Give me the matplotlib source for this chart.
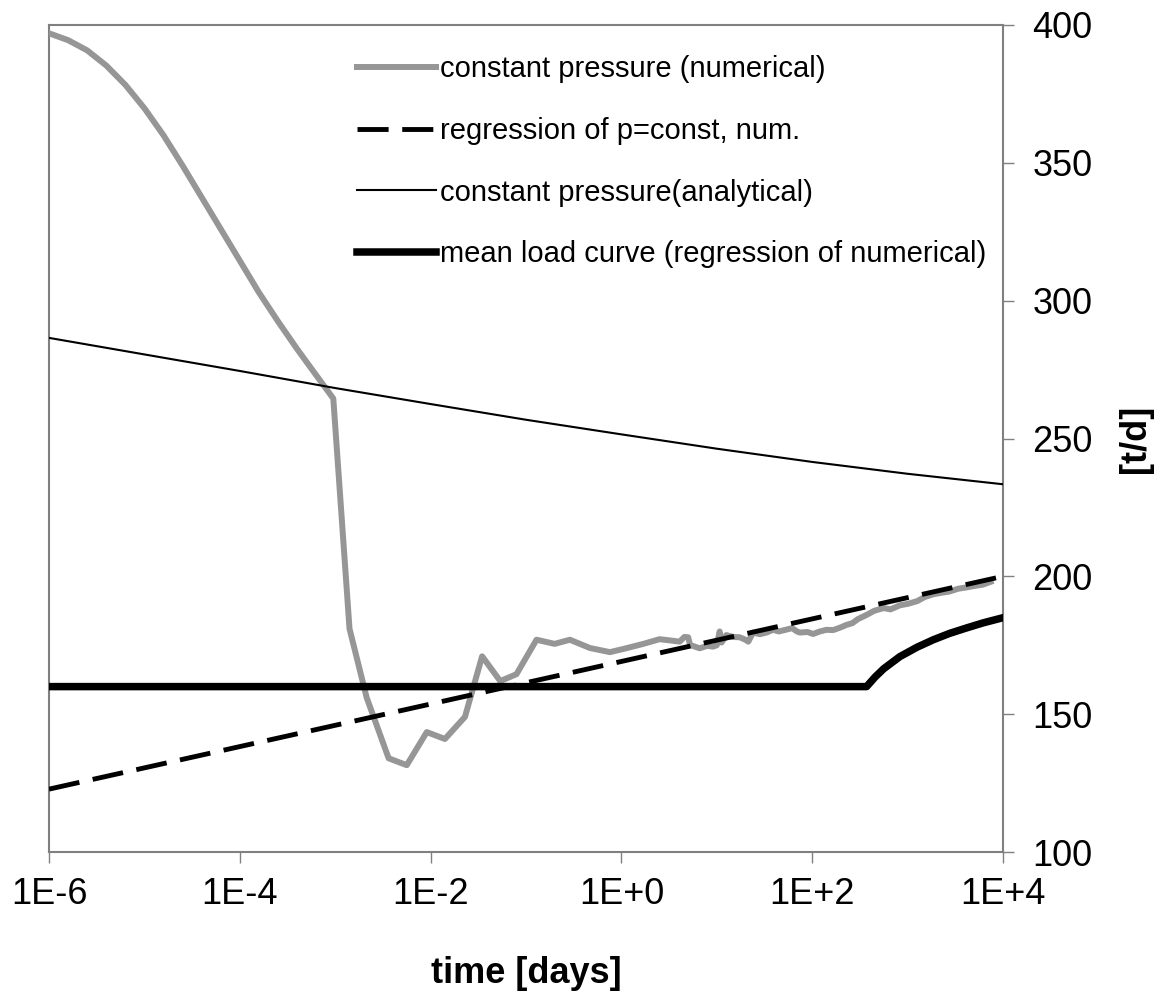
import numpy as np
import matplotlib
matplotlib.use("Agg")
import matplotlib.pyplot as plt
from matplotlib.ticker import FixedLocator, FuncFormatter, NullLocator

plt.rcParams['font.family'] = ['Liberation Sans', 'DejaVu Sans']

# ---- data (time given as log10 of days) ----
num_logt = [-6.00, -5.80, -5.60, -5.40, -5.20, -5.00, -4.80, -4.60, -4.40, -4.20,
            -4.00, -3.80, -3.60, -3.40, -3.20, -3.02, -2.85, -2.67, -2.44, -2.25,
            -2.04, -1.85, -1.64, -1.46, -1.27, -1.10, -0.89, -0.70, -0.54, -0.33,
            -0.12, 0.06, 0.23, 0.40, 0.50, 0.61, 0.66, 0.70, 0.72, 0.82,
            0.90, 0.96, 1.00, 1.03, 1.05, 1.10, 1.17, 1.24, 1.30, 1.33,
            1.38, 1.45, 1.52, 1.59, 1.65, 1.72, 1.79, 1.84, 1.87, 1.95,
            2.01, 2.08, 2.15, 2.22, 2.30, 2.36, 2.42, 2.48, 2.57, 2.65,
            2.75, 2.82, 2.92, 3.00, 3.10, 3.18, 3.27, 3.35, 3.44, 3.53,
            3.62, 3.70, 3.79, 3.87]
num_val = [397.0, 394.5, 390.8, 385.3, 378.3, 369.8, 360.0, 349.0, 337.5, 326.0,
           314.5, 303.0, 292.5, 282.5, 273.0, 264.5, 181.0, 156.0, 134.0, 131.5,
           143.5, 141.0, 149.0, 171.0, 162.0, 164.5, 177.0, 175.5, 177.0, 174.0,
           172.5, 174.0, 175.5, 177.2, 176.8, 176.3, 178.0, 177.9, 175.1, 173.9,
           174.8, 174.5, 175.0, 180.0, 176.0, 178.7, 178.0, 177.9, 177.0, 176.3,
           179.6, 179.0, 179.6, 180.6, 180.0, 180.6, 181.2, 180.0, 179.6, 179.8,
           179.1, 180.0, 180.6, 180.5, 181.5, 182.4, 183.0, 184.5, 186.0, 187.5,
           188.5, 188.0, 189.5, 190.0, 191.0, 192.5, 193.5, 194.0, 194.5, 195.5,
           196.0, 196.5, 197.0, 198.0]

reg_logt = [-6.0, 4.0]
reg_val = [122.8, 200.0]

ana_logt = [-6.0, -5.0, -4.0, -3.0, -2.0, -1.0, 0.0, 1.0, 2.0, 3.0, 4.0]
ana_val = [286.5, 280.5, 274.5, 268.3, 262.5, 256.8, 251.5, 246.3, 241.5, 237.2, 233.4]

mean_logt = [-6.0, 2.57, 2.66, 2.75, 2.92, 3.10, 3.27, 3.44, 3.62, 3.79, 4.0]
mean_val = [160.0, 160.0, 163.5, 166.5, 170.9, 174.3, 177.0, 179.3, 181.3, 183.1, 185.0]

labels = ["constant pressure (numerical)",
          "regression of p=const, num.",
          "constant pressure(analytical)",
          "mean load curve (regression of numerical)"]

xtick_exp = [-6, -4, -2, 0, 2, 4]
yticks = [100, 150, 200, 250, 300, 350, 400]

def t(lst):
    return 10.0 ** np.asarray(lst)

W, H = 1165, 998
fig = plt.figure(figsize=(W / 100, H / 100), dpi=100)
ax = fig.add_axes([49 / W, 1 - 852 / H, (1003 - 49) / W, (852 - 25) / H])

gray = '#969696'
l1, = ax.plot(t(num_logt), num_val, color=gray, lw=4.3, solid_joinstyle='round', zorder=3)
l2, = ax.plot(t(reg_logt), reg_val, color='black', lw=3.5, zorder=4)
l2.set_dashes((6.4, 2.8))
l3, = ax.plot(t(ana_logt), ana_val, color='black', lw=1.5, zorder=4)
l4, = ax.plot(t(mean_logt), mean_val, color='black', lw=5.4, zorder=4)

ax.set_xscale('log')
ax.set_xlim(1e-6, 1e4)
ax.set_ylim(100, 400)

ax.xaxis.set_major_locator(FixedLocator([10.0 ** e for e in xtick_exp]))
ax.xaxis.set_minor_locator(NullLocator())

def fmt(x, pos):
    e = int(round(np.log10(x)))
    return "1E%s%d" % ('+' if e >= 0 else '-', abs(e))
ax.xaxis.set_major_formatter(FuncFormatter(fmt))

ax.yaxis.tick_right()
ax.yaxis.set_label_position('right')
ax.set_yticks(yticks)

for s in ax.spines.values():
    s.set_color('#808080')
    s.set_linewidth(1.5)

ax.tick_params(axis='both', which='major', direction='out', length=8,
               width=1.0, color='#808080', labelsize=26, labelcolor='black')
ax.tick_params(axis='x', pad=10)
ax.tick_params(axis='y', pad=13)

ax.set_xlabel("time [days]", fontsize=26, fontweight='bold', labelpad=32)
ax.set_ylabel("[t/d]", fontsize=26, fontweight='bold', labelpad=18)

leg = ax.legend([l1, l2, l3, l4], labels, loc='upper left',
                bbox_to_anchor=(357 / W, 1 - 55 / H), bbox_transform=fig.transFigure,
                frameon=False, fontsize=21, handlelength=2.7, handletextpad=0.15,
                labelspacing=1.16, borderpad=0, borderaxespad=0)

fig.savefig("out.png", dpi=100)
